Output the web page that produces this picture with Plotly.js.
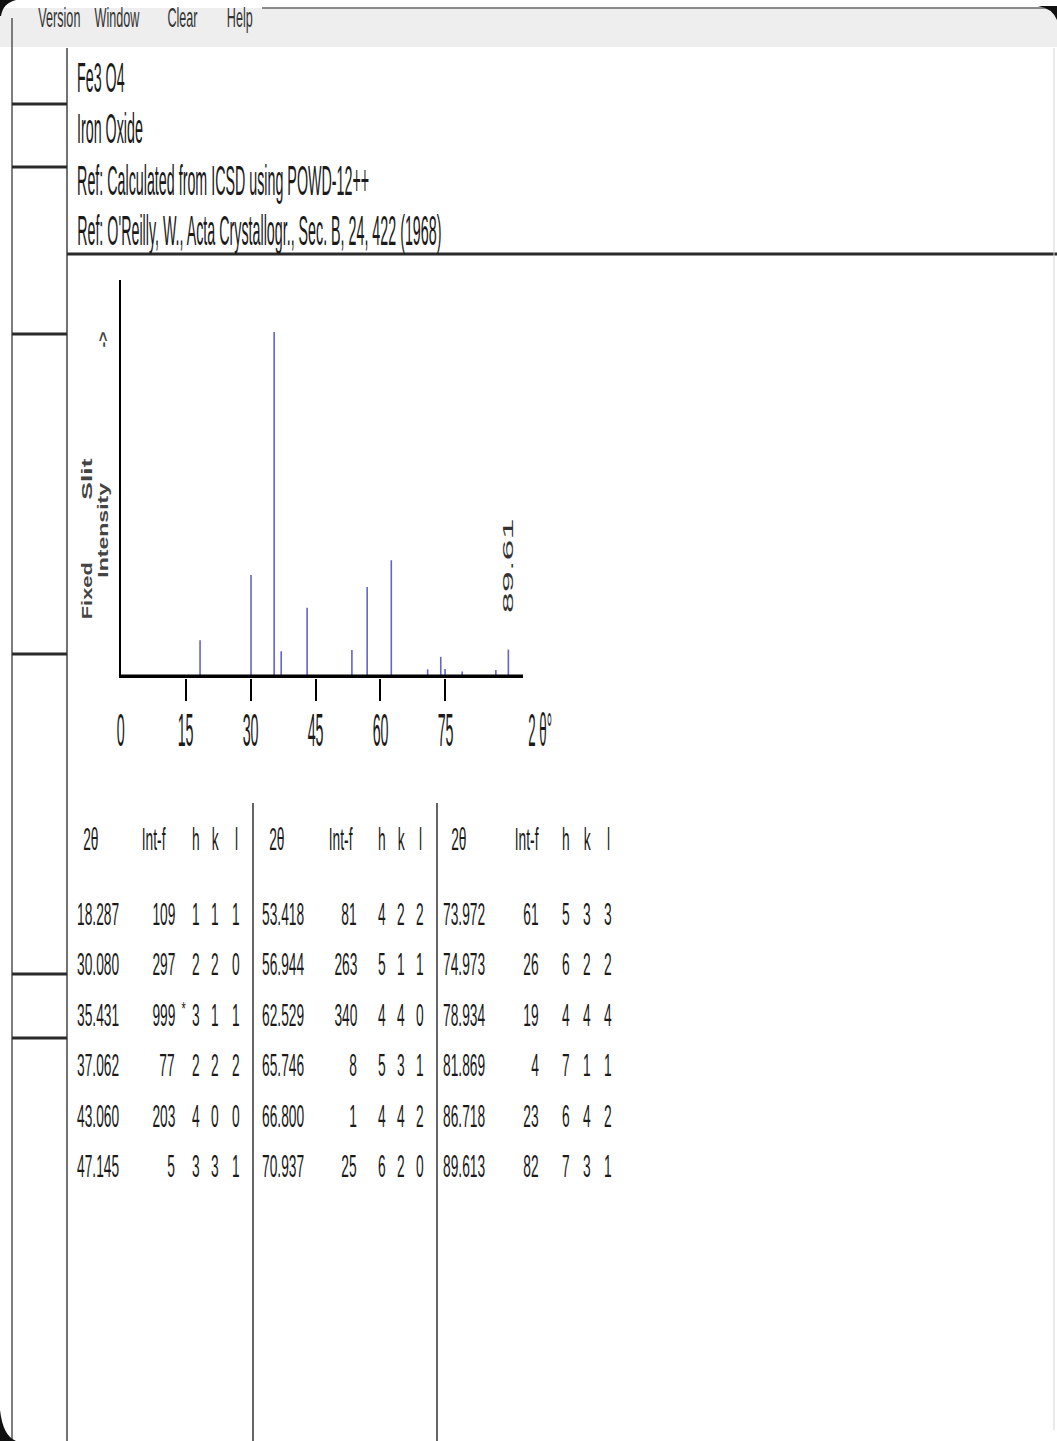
<!DOCTYPE html>
<html>
<head>
<meta charset="utf-8">
<script src="https://cdn.plot.ly/plotly-3.0.1.min.js"></script>
<style>
  html, body { margin: 0; padding: 0; background: #ffffff; }
  #chart { width: 1057px; height: 1441px; }
</style>
</head>
<body>
<div id="chart"></div>
<script>
const twoTheta = [18.287, 30.080, 35.431, 37.062, 43.060, 47.145,
                  53.418, 56.944, 62.529, 65.746, 66.800, 70.937,
                  73.972, 74.973, 78.934, 81.869, 86.718, 89.613];
const intensity = [109, 297, 999, 77, 203, 5,
                   81, 263, 340, 8, 1, 25,
                   61, 26, 19, 4, 23, 82];
const hIdx = [1, 2, 3, 2, 4, 3, 4, 5, 4, 5, 4, 6, 5, 6, 4, 7, 6, 7];
const kIdx = [1, 2, 1, 2, 0, 3, 2, 1, 4, 3, 4, 2, 3, 2, 4, 1, 4, 3];
const lIdx = [1, 0, 1, 2, 0, 1, 2, 1, 0, 1, 2, 0, 3, 2, 4, 1, 2, 1];
const xTickVals = [0, 15, 30, 45, 60, 75];
const xTickLabels = ['0', '15', '30', '45', '60', '75'];
const headerLines = ['Fe3 O4', 'Iron Oxide',
                     'Ref: Calculated from ICSD using POWD-12++',
                     "Ref: O'Reilly, W., Acta Crystallogr., Sec. B, 24, 422 (1968)"];
const menuItems = ['Version', 'Window', 'Clear', 'Help'];
const tableHeads = ['2θ', 'Int-f', 'h', 'k', 'l'];
const xAxisLabel = '2 θ°';
const yLabelParts = ['Fixed', 'Slit', 'Intensity', '->'];

// ---------------- helpers ----------------
const W = 1057, H = 1441;
const X = p => p / W;
const Y = p => 1 - p / H;
const FONT = 'Liberation Sans, Arial, sans-serif';
const annotations = [];
const stretch = [];
const origins = [];

function addText(text, x, y, o) {
  o = o || {};
  const anchor = o.xanchor || 'left';
  annotations.push({
    text: text,
    xref: o.xref || 'paper', yref: 'paper',
    x: o.xref === 'x' ? x : X(x), y: Y(y),
    xanchor: anchor, yanchor: 'middle',
    showarrow: false,
    textangle: o.angle || 0,
    borderpad: 0, borderwidth: 0,
    font: { family: FONT, size: o.size || 32, color: o.color || '#1a1a1a',
            weight: o.weight || 'normal' }
  });
  stretch.push(o.k || 1);
  origins.push(anchor === 'left' ? 'left center' : anchor === 'right' ? 'right center' : 'center');
}

// ---------------- shapes (frame of the card window) ----------------
const shapes = [];
function line(x0, y0, x1, y1, color, width) {
  shapes.push({ type: 'line', xref: 'paper', yref: 'paper',
    x0: X(x0), y0: Y(y0), x1: X(x1), y1: Y(y1),
    line: { color: color, width: width } });
}
shapes.push({ type: 'rect', xref: 'paper', yref: 'paper', x0: X(0), x1: X(W), y0: Y(8), y1: Y(47),
  fillcolor: '#eeeeee', line: { width: 0 }, layer: 'below' });
line(262, 8, W, 8, '#8a8a8a', 2);
line(12, 18, 12, H, '#555555', 1.5);
line(67, 48, 67, H, '#444444', 1.5);
[104, 167, 334, 654, 974, 1038].forEach(yy => line(12, yy, 67, yy, '#2a2a2a', 3));
line(67, 254, W, 254, '#2a2a2a', 3);
line(253, 803, 253, H, '#333333', 1.5);
line(437, 803, 437, H, '#333333', 1.5);
line(1054, 48, 1054, 1430, '#d4d4d4', 1);
function pathPx(pts) {
  return pts.map((p, i) => (i === 0 ? 'M ' : p.length === 4 ? 'Q ' : 'L ') +
    (p.length === 4 ? X(p[0]) + ' ' + Y(p[1]) + ' ' + X(p[2]) + ' ' + Y(p[3]) : X(p[0]) + ' ' + Y(p[1]))).join(' ') + ' Z';
}
shapes.push({ type: 'path', xref: 'paper', yref: 'paper', fillcolor: '#111', line: { width: 0 },
  path: pathPx([[0, 0], [16, 0], [3, 3, 1, 16], [0, 16]]) });
shapes.push({ type: 'path', xref: 'paper', yref: 'paper', fillcolor: '#111', line: { width: 0 },
  path: pathPx([[0, 1410], [3, 1436, 16, 1441], [0, 1441]]) });
shapes.push({ type: 'path', xref: 'paper', yref: 'paper', fillcolor: '#111', line: { width: 0 },
  path: pathPx([[1038, 6], [W, 6], [W, 20], [1052, 8, 1038, 6]]) });
// thick base line of the stick pattern, drawn on the axis scale
shapes.push({ type: 'line', xref: 'x domain', yref: 'y', x0: 0, x1: 1, y0: 0, y1: 0,
  line: { color: '#000', width: 7 }, layer: 'above' });

// ---------------- texts ----------------
// menu bar
addText(menuItems[0], 80, 18, { xanchor: 'right', size: 28, k: 0.45, color: '#333' });
addText(menuItems[1], 117, 18, { xanchor: 'center', size: 28, k: 0.45, color: '#333' });
addText(menuItems[2], 182, 18, { xanchor: 'center', size: 28, k: 0.45, color: '#333' });
addText(menuItems[3], 240, 18, { xanchor: 'center', size: 28, k: 0.45, color: '#333' });

// card header
const headY = [78, 128, 180, 231];
headerLines.forEach((t, i) => addText(t, 77, headY[i], { size: 42, k: 0.34 }));

// x tick labels and axis label, placed on the axis scale
xTickVals.forEach((v, i) => addText(xTickLabels[i], v, 730, { xref: 'x', xanchor: 'center', size: 46, k: 0.31 }));
addText(xAxisLabel, 540, 730, { xanchor: 'center', size: 46, k: 0.29 });

// last peak label
const lastI = twoTheta.length - 1;
addText(twoTheta[lastI].toFixed(2), twoTheta[lastI], 566,
  { xref: 'x', xanchor: 'center', angle: -90, size: 14, k: 2.7, color: '#333' });

// y axis label pieces (rotated)
addText(yLabelParts[0], 87, 591, { xanchor: 'center', angle: -90, size: 14, k: 1.56, weight: 'bold', color: '#444' });
addText(yLabelParts[1], 87, 479, { xanchor: 'center', angle: -90, size: 14, k: 1.9, weight: 'bold', color: '#444' });
addText(yLabelParts[2], 103, 530, { xanchor: 'center', angle: -90, size: 14, k: 1.65, weight: 'bold', color: '#444' });
addText(yLabelParts[3], 103, 340, { xanchor: 'center', angle: -90, size: 14, k: 1.25, weight: 'bold', color: '#444' });

// table
const colTheta = [77, 262, 443];
const colInt = [175, 357, 539];
const colH = [196, 382, 566];
const colK = [215, 401, 587];
const colL = [236, 420, 608];
const headTheta = [91, 277, 459];
const headInt = [153, 340, 526];
const rowsPerCol = 6;
const headRowY = 839;
const rowY = r => 914 + 50.4 * r;
const TK = 0.43;
for (let g = 0; g < 3; g++) {
  addText(tableHeads[0], headTheta[g], headRowY, { xanchor: 'center', k: TK });
  addText(tableHeads[1], headInt[g], headRowY, { xanchor: 'center', k: TK });
  addText(tableHeads[2], colH[g], headRowY, { xanchor: 'center', k: TK });
  addText(tableHeads[3], colK[g], headRowY, { xanchor: 'center', k: TK });
  addText(tableHeads[4], colL[g], headRowY, { xanchor: 'center', k: TK });
}
const maxInt = Math.max(...intensity);
twoTheta.forEach((t, i) => {
  const g = Math.floor(i / rowsPerCol), r = i % rowsPerCol, y = rowY(r);
  addText(t.toFixed(3), colTheta[g], y, { k: TK });
  addText(String(intensity[i]), colInt[g], y, { xanchor: 'right', k: TK });
  if (intensity[i] === maxInt) addText('*', colInt[g] + 8, y - 6, { xanchor: 'center', size: 18, k: 0.6 });
  addText(String(hIdx[i]), colH[g], y, { xanchor: 'center', k: TK });
  addText(String(kIdx[i]), colK[g], y, { xanchor: 'center', k: TK });
  addText(String(lIdx[i]), colL[g], y, { xanchor: 'center', k: TK });
});

// ---------------- stick pattern ----------------
const stickX = twoTheta.flatMap(t => [t, t, null]);
const stickY = intensity.flatMap(v => [0, v, null]);
const data = [{
  type: 'scatter', mode: 'lines', x: stickX, y: stickY,
  line: { color: '#6464c8', width: 1.6 }, hoverinfo: 'skip', showlegend: false
}];

const layout = {
  width: W, height: H, autosize: false,
  margin: { l: 0, r: 0, t: 0, b: 0, pad: 0 },
  paper_bgcolor: '#ffffff', plot_bgcolor: 'rgba(0,0,0,0)',
  showlegend: false,
  xaxis: {
    domain: [X(121), X(523)], range: [0, 93],
    showgrid: false, zeroline: false, showline: false,
    ticks: 'outside', ticklen: 22, tickwidth: 2, tickcolor: '#000',
    tickmode: 'array', tickvals: xTickVals.slice(1), showticklabels: false, fixedrange: true
  },
  yaxis: {
    domain: [Y(678), Y(280)], range: [0, 1149],
    showgrid: false, zeroline: false, showline: true, linewidth: 2, linecolor: '#000',
    ticks: '', showticklabels: false, fixedrange: true
  },
  shapes: shapes,
  annotations: annotations
};

Plotly.newPlot('chart', data, layout, { staticPlot: true, displayModeBar: false }).then(gd => {
  gd.querySelectorAll('g.annotation').forEach(g => {
    const i = +g.getAttribute('data-index');
    const t = g.querySelector('text.annotation-text');
    if (!t || !stretch[i] || stretch[i] === 1) return;
    t.style.transformBox = 'fill-box';
    t.style.transformOrigin = origins[i];
    t.style.transform = 'scaleX(' + stretch[i] + ')';
  });
});
</script>
</body>
</html>
